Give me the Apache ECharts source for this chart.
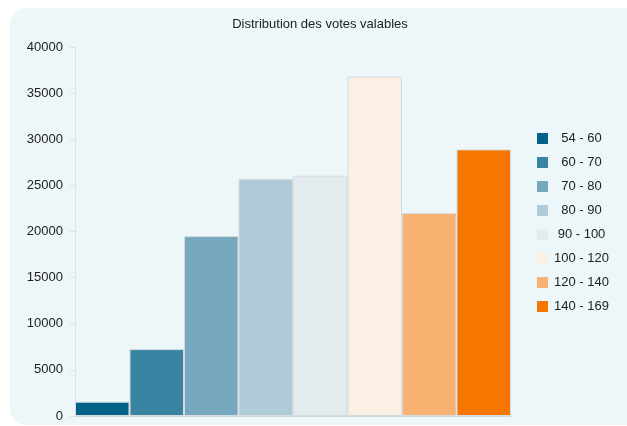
<!DOCTYPE html>
<html>
<head>
<meta charset="utf-8">
<script src="https://cdn.jsdelivr.net/npm/echarts@6/dist/echarts.min.js"></script>
<style>
html,body{margin:0;padding:0;background:#ffffff;}
#chart{width:627px;height:426px;}
</style>
</head>
<body>
<div id="chart"></div>
<script>
const titleText = 'Distribution des votes valables';
const categories = ['54 - 60', '60 - 70', '70 - 80', '80 - 90', '90 - 100', '100 - 120', '120 - 140', '140 - 169'];
const values = [1550, 7250, 19500, 25700, 26050, 36800, 22000, 28900];
const colors = ['#04628A', '#3A84A3', '#75A7BE', '#AFCBD7', '#E2EBEE', '#FCF0E4', '#F8B171', '#F57600'];
const yTicks = { min: 0, max: 40000, interval: 5000 };

const FONT = 'Liberation Sans, Arial, sans-serif';
const chart = echarts.init(document.getElementById('chart'), null, { renderer: 'canvas' });

const series = categories.map((name, i) => ({
  name: name,
  type: 'bar',
  stack: 'all',
  barCategoryGap: 0,
  data: categories.map((c, j) => (j === i ? values[i] : '-')),
  itemStyle: { color: colors[i], borderColor: '#d6dcde', borderWidth: 1 },
  emphasis: { disabled: true }
}));

chart.setOption({
  backgroundColor: '#ffffff',
  animation: false,
  color: colors,
  graphic: [{
    type: 'rect',
    z: -10,
    silent: true,
    shape: { x: 10, y: 8, width: 640, height: 417, r: 16 },
    style: { fill: '#EDF6F8' }
  }],
  title: {
    text: titleText,
    left: 315,
    textAlign: 'center',
    top: 13,
    textStyle: { fontFamily: FONT, fontSize: 13, fontWeight: 'normal', color: '#222' }
  },
  legend: {
    orient: 'vertical',
    left: 537,
    top: 132,
    padding: 0,
    itemWidth: 11,
    itemHeight: 11,
    itemGap: 11,
    icon: 'rect',
    data: categories,
    itemStyle: { borderWidth: 0 },
    formatter: (n) => '{a|' + n + '}',
    textStyle: {
      fontFamily: FONT,
      fontSize: 13,
      color: '#222',
      rich: { a: { width: 57, align: 'center', fontSize: 13, fontFamily: FONT, color: '#222' } }
    }
  },
  grid: { left: 75, right: 116, top: 47, bottom: 10, containLabel: false },
  xAxis: {
    type: 'category',
    data: categories,
    boundaryGap: true,
    axisLine: { lineStyle: { color: '#d0d6d8' } },
    axisTick: { show: false },
    axisLabel: { show: false }
  },
  yAxis: {
    type: 'value',
    min: yTicks.min,
    max: yTicks.max,
    interval: yTicks.interval,
    splitLine: { show: false },
    axisLine: { show: true, lineStyle: { color: '#dde3e5' } },
    axisTick: { show: true, length: 5, lineStyle: { color: '#dde3e5' } },
    axisLabel: { margin: 12, fontFamily: FONT, fontSize: 13, color: '#222', formatter: (v) => String(v) }
  },
  series: series
});
</script>
</body>
</html>
